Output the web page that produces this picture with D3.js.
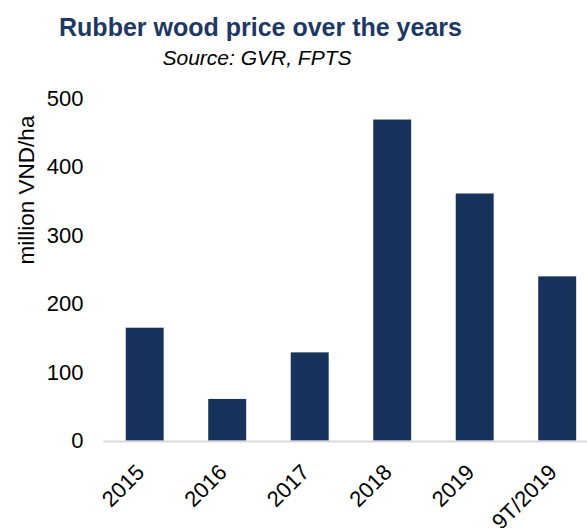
<!DOCTYPE html>
<html>
<head>
<meta charset="utf-8">
<script src="https://cdn.jsdelivr.net/npm/d3@7/dist/d3.min.js"></script>
<style>
  html, body { margin: 0; padding: 0; background: #ffffff; }
  svg { display: block; font-family: "Liberation Sans", Arial, sans-serif; }
</style>
</head>
<body>
<svg id="chart" width="587" height="528"></svg>
<script>
// Rubber wood price, million VND per hectare
const categories = ["2015", "2016", "2017", "2018", "2019", "9T/2019"];
const prices = [165, 61, 129, 469, 361, 240];
const yTicks = [0, 100, 200, 300, 400, 500];

const titleText = "Rubber wood price over the years";
const subtitleText = "Source: GVR, FPTS";
const yAxisTitle = "million VND/ha";

const svg = d3.select("#chart");
const W = 587, H = 528;
const plot = { left: 103.45, right: 598.45, top: 98.3, bottom: 440.7 };

const x = d3.scaleBand()
  .domain(categories)
  .range([plot.left, plot.right])
  .paddingInner(0.54)
  .paddingOuter(0.27);

const y = d3.scaleLinear()
  .domain([0, 500])
  .range([plot.bottom, plot.top]);

// Title block
svg.append("text")
  .attr("x", 260.5).attr("y", 36)
  .attr("text-anchor", "middle")
  .attr("font-size", 25).attr("font-weight", "bold")
  .attr("fill", "#1d3864")
  .text(titleText);

svg.append("text")
  .attr("x", 257).attr("y", 65)
  .attr("text-anchor", "middle")
  .attr("font-size", 21).attr("font-style", "italic")
  .attr("fill", "#000")
  .text(subtitleText);

// Y axis title
svg.append("text")
  .attr("transform", "translate(33.5,190) rotate(-90)")
  .attr("text-anchor", "middle")
  .attr("font-size", 22.5)
  .attr("fill", "#000")
  .text(yAxisTitle);

// Y tick labels
const yAxis = svg.append("g")
  .attr("transform", `translate(${plot.left},0)`)
  .call(d3.axisLeft(y).tickValues(yTicks).tickSize(0).tickPadding(20));
yAxis.select(".domain").remove();
yAxis.selectAll("text")
  .attr("font-size", 22)
  .attr("font-family", "'Liberation Sans', Arial, sans-serif")
  .attr("fill", "#000");

// Bars
svg.append("g").selectAll("rect")
  .data(categories)
  .join("rect")
  .attr("x", d => x(d))
  .attr("y", (d, i) => y(prices[i]))
  .attr("width", x.bandwidth())
  .attr("height", (d, i) => y(0) - y(prices[i]))
  .attr("fill", "#17335b");

// Category axis: baseline and rotated labels
svg.append("line")
  .attr("x1", plot.left).attr("x2", W)
  .attr("y1", y(0) + 0.8).attr("y2", y(0) + 0.8)
  .attr("stroke", "#d9d9d9").attr("stroke-width", 2);

const xAxis = svg.append("g")
  .attr("transform", `translate(0,${y(0)})`)
  .call(d3.axisBottom(x).tickSize(0));
xAxis.select(".domain").remove();
xAxis.selectAll("text")
  .attr("y", 0).attr("dy", 0)
  .attr("text-anchor", "end")
  .attr("transform", "translate(1,33) rotate(-45)")
  .attr("font-size", 22)
  .attr("font-family", "'Liberation Sans', Arial, sans-serif")
  .attr("fill", "#000");
</script>
</body>
</html>
